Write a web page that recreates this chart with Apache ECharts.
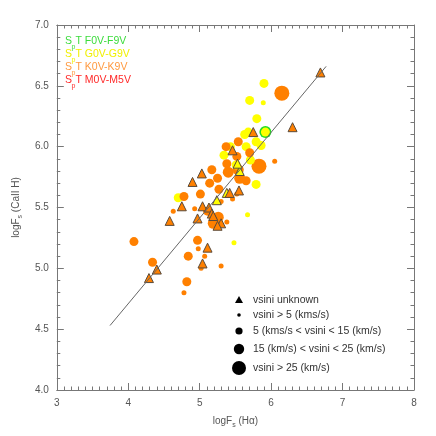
<!DOCTYPE html>
<html>
<head>
<meta charset="utf-8">
<script src="https://cdn.jsdelivr.net/npm/echarts@6/dist/echarts.min.js"></script>
<style>
  html, body { margin: 0; padding: 0; background: #fff; }
  #main { width: 436px; height: 436px; }
</style>
</head>
<body>
<div id="main"></div>
<script>
// vsini unknown (triangles)
const kTri = [[6.69,6.61],[6.30,6.16],[5.75,6.12],[5.46,5.97],[5.03,5.78],[4.90,5.71],[5.42,5.62],[5.55,5.64],
  [4.75,5.51],[5.04,5.51],[5.13,5.50],[5.17,5.45],[5.19,5.43],[4.97,5.41],[4.58,5.39],[5.30,5.37],
  [5.25,5.35],[5.11,5.17],[5.04,5.04],[4.40,4.99],[4.29,4.92]];
const gTri = [[5.38,5.62],[5.56,5.80],[5.24,5.56],[5.53,5.86]];

// K stars by vsini class
const kSmall = [[6.05,5.88],[5.52,5.61],[5.30,5.55],[5.46,5.57],[4.93,5.49],[4.63,5.47],[5.38,5.38],
  [4.98,5.16],[5.07,5.10],[5.30,5.02],[5.02,5.00],[4.78,4.80]];
const kMedium = [[5.54,6.04],[5.37,6.00],[5.70,5.95],[5.52,5.92],[5.38,5.86],[5.17,5.81],[5.25,5.74],
  [5.65,5.72],[5.14,5.70],[5.27,5.65],[5.01,5.61],[4.78,5.59],[5.11,5.47],[4.08,5.22],[4.97,5.23],
  [4.84,5.10],[4.34,5.05],[4.82,4.89]];
const kLarge = [[5.40,5.79],[5.54,5.81],[5.56,5.74],[5.26,5.42],[5.19,5.37]];
const kXL = [[6.15,6.44],[5.83,5.84]];

// G stars
const gSmall = [[5.89,6.36],[5.67,5.44],[5.48,5.21]];
const gMedium = [[5.90,6.52],[5.70,6.38],[5.80,6.23],[5.92,6.12],[5.63,6.10],[5.68,6.12],[5.79,6.04],
  [5.86,6.01],[5.65,6.00],[5.43,6.00],[5.34,5.93],[5.71,5.89],[5.51,5.85],[5.79,5.69],[4.70,5.58]];

// F stars
const fLarge = [[5.92,6.12]];

const fitLine = [[3.745,4.53],[6.77,6.66]];

const sptNames = ['F0V-F9V', 'G0V-G9V', 'K0V-K9V', 'M0V-M5V'];
const sptColors = ['#3cdc3c', '#f0f000', '#ff9a40', '#ff2a2a'];
const vsiniLabels = ['vsini unknown', 'vsini > 5 (kms/s)', '5 (kms/s < vsini < 15 (km/s)',
  '15 (km/s) < vsini < 25 (km/s)', 'vsini > 25 (km/s)'];

const ORANGE = '#ff8000';
const YELLOW = '#ffff00';
const GREEN = '#22dd22';
const AXIS = '#777';
const FONT = 'Liberation Sans';

function axisCommon(labels) {
  return {
    type: 'value',
    axisLine: { show: true, onZero: false, lineStyle: { color: AXIS, width: 1 } },
    axisTick: { show: true, inside: true, length: 7, lineStyle: { color: AXIS } },
    splitLine: { show: false },
    axisLabel: { show: labels, color: '#555', fontSize: 10, fontFamily: FONT, margin: 8 },
  };
}

const nameStyle = {
  color: '#555', fontSize: 10, fontFamily: FONT, lineHeight: 16,
  rich: { s: { fontSize: 7, fontFamily: FONT, color: '#555', lineHeight: 8, verticalAlign: 'bottom' } },
};

let option = {
  animation: false,
  backgroundColor: '#fff',
  grid: { left: 43, top: 25, right: 22, bottom: 46 },
  xAxis: [
    Object.assign(axisCommon(true), {
      min: 3, max: 8, interval: 1, position: 'bottom',
      minorTick: { show: true, splitNumber: 10, length: 3.5, lineStyle: { color: AXIS } },
      name: 'logF{s|s} (H\u03b1)', nameLocation: 'middle', nameGap: 22,
      nameTextStyle: nameStyle,
    }),
    Object.assign(axisCommon(false), {
      min: 3, max: 8, interval: 1, position: 'top',
      minorTick: { show: true, splitNumber: 10, length: 3.5, lineStyle: { color: AXIS } },
    }),
  ],
  yAxis: [
    Object.assign(axisCommon(true), {
      min: 4, max: 7, interval: 0.5, position: 'left',
      minorTick: { show: true, splitNumber: 5, length: 3.5, lineStyle: { color: AXIS } },
      name: 'logF{s|s} (CaII H)', nameLocation: 'middle', nameGap: 32, nameRotate: 90,
      nameTextStyle: nameStyle,
    }),
    Object.assign(axisCommon(false), {
      min: 4, max: 7, interval: 0.5, position: 'right',
      minorTick: { show: true, splitNumber: 5, length: 3.5, lineStyle: { color: AXIS } },
    }),
  ],
  series: [
    { type: 'scatter', data: fLarge, symbolSize: 12, itemStyle: { color: GREEN, opacity: 1 } },
    { type: 'scatter', data: kXL, symbolSize: 15, itemStyle: { color: ORANGE, opacity: 1 } },
    { type: 'scatter', data: kLarge, symbolSize: 11, itemStyle: { color: ORANGE, opacity: 1 } },
    { type: 'scatter', data: gMedium, symbolSize: 9, itemStyle: { color: YELLOW, opacity: 1 } },
    { type: 'scatter', data: gSmall, symbolSize: 5, itemStyle: { color: YELLOW, opacity: 1 } },
    { type: 'scatter', data: kMedium, symbolSize: 9, itemStyle: { color: ORANGE, opacity: 1 } },
    { type: 'scatter', data: kSmall, symbolSize: 5, itemStyle: { color: ORANGE, opacity: 1 } },
    {
      type: 'line', data: fitLine, symbol: 'none', silent: true,
      lineStyle: { color: '#666', width: 1 },
    },
    {
      type: 'scatter', data: gTri, symbol: 'triangle', symbolSize: 9,
      itemStyle: { color: YELLOW, borderColor: '#5a4a3a', borderWidth: 1, opacity: 1 },
    },
    {
      type: 'scatter', data: kTri, symbol: 'triangle', symbolSize: 9,
      itemStyle: { color: ORANGE, borderColor: '#5a4a3a', borderWidth: 1, opacity: 1 },
    },
  ],
  graphic: [],
};
option.yAxis[0].axisLabel.formatter = function (v) { return v.toFixed(1); };

// spectral type legend, top left
sptNames.forEach(function (name, i) {
  let y = 41 + i * 13;
  option.graphic.push(
    { type: 'text', x: 65, y: y, style: { text: 'S', fill: sptColors[i], font: '10.5px ' + FONT, textVerticalAlign: 'middle' } },
    { type: 'text', x: 71.5, y: y + 6, style: { text: 'p', fill: sptColors[i], font: '7px ' + FONT, textVerticalAlign: 'middle' } },
    { type: 'text', x: 75.5, y: y, style: { text: 'T ' + name, fill: sptColors[i], font: '10.5px ' + FONT, textVerticalAlign: 'middle' } }
  );
});

// vsini legend, bottom right
const legY = [300, 315, 331, 349, 368];
const legR = [0, 1.8, 3.6, 5.2, 7];
legY.forEach(function (y, i) {
  if (i === 0) {
    option.graphic.push({
      type: 'polygon', shape: { points: [[239, y - 4], [235, y + 3], [243, y + 3]] },
      style: { fill: '#000' },
    });
  } else {
    option.graphic.push({
      type: 'circle', shape: { cx: 239, cy: y, r: legR[i] },
      style: { fill: '#000' },
    });
  }
  option.graphic.push({
    type: 'text', x: 253, y: y,
    style: { text: vsiniLabels[i], fill: '#333', font: '10.5px ' + FONT, textVerticalAlign: 'middle' },
  });
});

let chartDom = document.getElementById('main');
let myChart = echarts.init(chartDom);
option && myChart.setOption(option);
</script>
</body>
</html>
